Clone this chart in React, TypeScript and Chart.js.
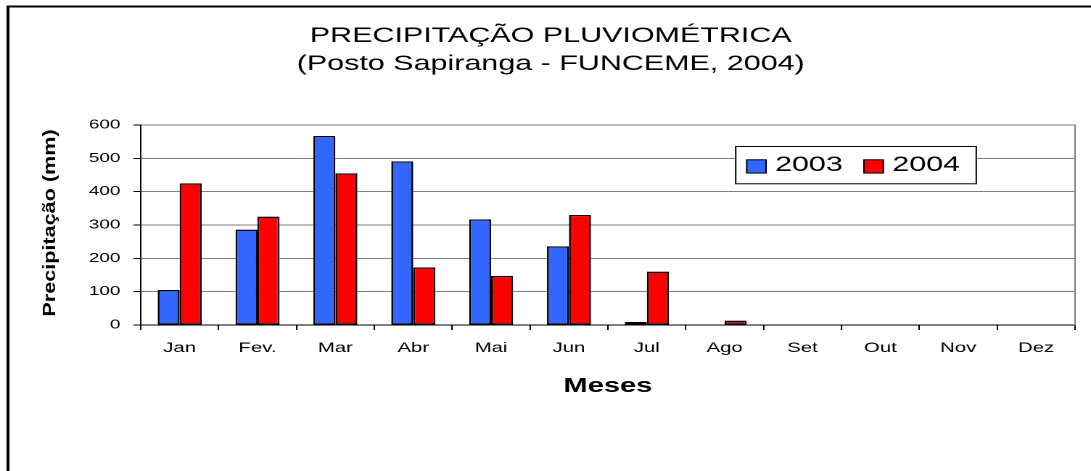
import React, { useEffect, useRef } from 'react';
import { Chart, registerables } from 'chart.js';

Chart.register(...registerables);

// ---- data ----
const months = ['Jan', 'Fev.', 'Mar', 'Abr', 'Mai', 'Jun', 'Jul', 'Ago', 'Set', 'Out', 'Nov', 'Dez'];
const rain2003 = [105, 286, 567, 491, 317, 236, 9, 0, 0, 0, 0, 0];
const rain2004 = [425, 325, 455, 173, 147, 330, 160, 13, 0, 0, 0, 0];
const seriesLabels = ['2003', '2004'];
const seriesColors = ['#3366FF', '#FF0000'];
const yTickValues = [0, 100, 200, 300, 400, 500, 600];
const titleLines = ['PRECIPITAÇÃO PLUVIOMÉTRICA', '(Posto Sapiranga - FUNCEME, 2004)'];
const xTitle = 'Meses';
const yTitle = 'Precipitação (mm)';

// ---- drawing surface (the source picture is horizontally stretched) ----
const OUT_W = 1091;
const OUT_H = 471;
const W = 752;
const H = 471;
const FONT = '"Liberation Sans", Arial, sans-serif';

const framePlugin = {
  id: 'frame',
  beforeDraw(chart: any) {
    const ctx = chart.ctx;
    ctx.save();
    ctx.fillStyle = '#ffffff';
    ctx.fillRect(0, 0, W, H);
    ctx.strokeStyle = '#000000';
    ctx.lineWidth = 2;
    ctx.strokeRect(5.5, 6.5, W + 20, H + 20);
    ctx.restore();
  },
};

const titleCenterPlugin = {
  id: 'titleCenter',
  afterLayout(chart: any) {
    const t = chart.titleBlock;
    if (t) {
      t.left = 7.2;
      t.right = W;
      t.width = t.right - t.left;
    }
  },
};

const yTitlePlugin = {
  id: 'yTitle',
  afterDraw(chart: any) {
    const { ctx, chartArea } = chart;
    ctx.save();
    ctx.translate(34.5, (chartArea.top + chartArea.bottom) / 2 - 2);
    ctx.rotate(-Math.PI / 2);
    ctx.scale(1.8, 1);
    ctx.font = `bold 12px ${FONT}`;
    ctx.fillStyle = '#000';
    ctx.textAlign = 'center';
    ctx.textBaseline = 'middle';
    ctx.fillText(yTitle, 0, 0);
    ctx.restore();
  },
};

const legendPlugin = {
  id: 'boxLegend',
  afterDraw(chart: any) {
    const { ctx, chartArea } = chart;
    const left = chartArea.left + 409.6;
    const top = chartArea.top + 21;
    const w = 166.8;
    const h = 38.3;
    ctx.save();
    ctx.fillStyle = '#ffffff';
    ctx.fillRect(left, top, w, h);
    ctx.strokeStyle = '#000';
    ctx.lineWidth = 1;
    ctx.strokeRect(left + 0.5, top + 0.5, w - 1, h - 1);
    ctx.font = `21px ${FONT}`;
    ctx.textBaseline = 'middle';
    ctx.textAlign = 'left';
    const cy = top + h / 2;
    let x = left + 8.1;
    chart.data.datasets.forEach((ds: any) => {
      const s = 13.3;
      ctx.fillStyle = ds.backgroundColor;
      ctx.fillRect(x, cy + 1.3 - s / 2, s, s);
      ctx.strokeStyle = '#000';
      ctx.lineWidth = 1;
      ctx.strokeRect(x, cy + 1.3 - s / 2, s, s);
      x += s + 6.2;
      ctx.fillStyle = '#000';
      ctx.fillText(ds.label, x, cy + 0.3);
      x += ctx.measureText(ds.label).width + 14.6;
    });
    ctx.restore();
  },
};

export default function App() {
  const canvasRef = useRef<HTMLCanvasElement | null>(null);

  useEffect(() => {
    const canvas = canvasRef.current;
    if (!canvas) return;
    Chart.defaults.font.family = FONT;
    Chart.defaults.color = '#000';

    const chart = new Chart(canvas, {
      type: 'bar',
      data: {
        labels: months,
        datasets: [
          {
            label: seriesLabels[0],
            data: rain2003,
            backgroundColor: seriesColors[0],
            borderColor: '#000',
            borderWidth: 1.3,
            borderSkipped: false,
          },
          {
            label: seriesLabels[1],
            data: rain2004,
            backgroundColor: seriesColors[1],
            borderColor: '#000',
            borderWidth: 1.3,
            borderSkipped: false,
          },
        ],
      },
      options: {
        responsive: false,
        animation: false,
        devicePixelRatio: 2,
        datasets: {
          bar: { barPercentage: 1, categoryPercentage: 0.565 },
        },
        layout: { padding: { left: 0, right: 11, top: 10, bottom: 66 } },
        plugins: {
          legend: { display: false },
          tooltip: { enabled: false },
          title: {
            display: true,
            text: titleLines,
            color: '#000',
            font: { family: FONT, size: 21, weight: 'normal', lineHeight: 1.352 },
            padding: { top: 11.8, bottom: 46.4 },
          },
        },
        scales: {
          x: {
            grid: {
              display: true,
              drawOnChartArea: false,
              drawTicks: true,
              tickLength: 5,
              tickColor: '#000',
              offset: true,
            },
            border: { display: true, color: '#000', width: 1 },
            ticks: {
              font: { family: FONT, size: 14 },
              color: '#000',
              padding: 9.6,
              maxRotation: 0,
              autoSkip: false,
            },
            title: {
              display: true,
              text: xTitle,
              color: '#000',
              font: { family: FONT, size: 20, weight: 'bold' },
              padding: { top: 0, bottom: 6.3 },
            },
            afterFit: (s: any) => {
              s.height = 80;
            },
          },
          y: {
            min: 0,
            max: 600,
            afterBuildTicks: (s: any) => {
              s.ticks = yTickValues.map((v) => ({ value: v }));
            },
            grid: {
              color: '#808080',
              lineWidth: 1,
              drawTicks: true,
              tickLength: 5,
              tickColor: '#000',
            },
            border: { display: true, color: '#000', width: 1 },
            ticks: {
              font: { family: FONT, size: 13 },
              color: '#000',
              padding: 9,
            },
            afterFit: (s: any) => {
              s.width = 97;
            },
          },
          y2: {
            position: 'right',
            display: true,
            min: 0,
            max: 600,
            grid: { display: false },
            ticks: { display: false },
            border: { display: true, color: '#808080', width: 1 },
            afterFit: (s: any) => {
              s.width = 0;
            },
          },
        },
      },
      plugins: [framePlugin, titleCenterPlugin, yTitlePlugin, legendPlugin],
    } as any);

    return () => {
      chart.destroy();
    };
  }, []);

  return (
    <div style={{ position: 'absolute', left: 0, top: 0, width: OUT_W, height: OUT_H, overflow: 'hidden' }}>
      <canvas
        ref={canvasRef}
        width={W}
        height={H}
        style={{ width: OUT_W + 'px', height: OUT_H + 'px', display: 'block' }}
      />
    </div>
  );
}
